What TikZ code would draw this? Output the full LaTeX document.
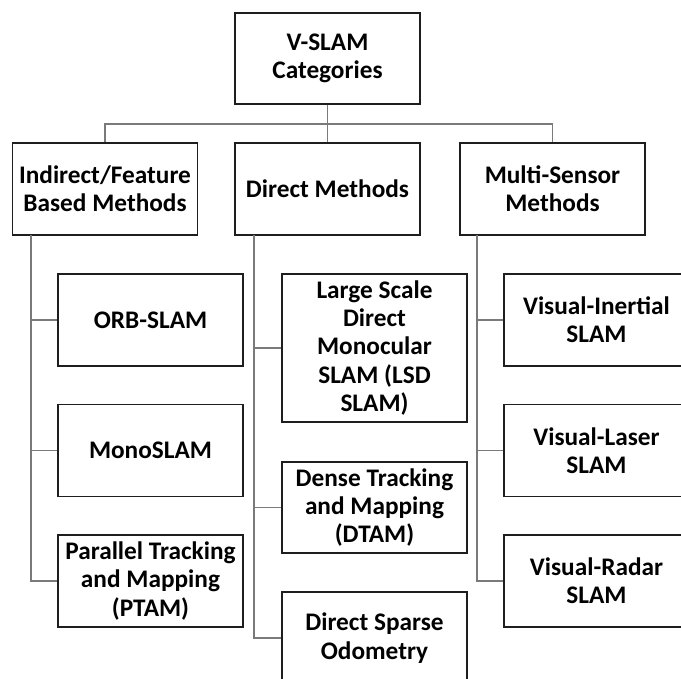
\documentclass[tikz,border=0pt]{standalone}
\usepackage{fontspec}
\setmainfont{Carlito}
\newcommand{\boxfont}{\fontsize{25.3}{28.3}\selectfont\bfseries}
\begin{document}
\begin{tikzpicture}[x=1pt,y=-1pt,
  catbox/.style={draw=boxline,line width=1.1pt,rectangle,inner sep=0pt,
    minimum width=185pt,minimum height=92pt,align=center,text width=183pt,
    font=\boxfont,execute at begin node={\spaceskip=0.23em\relax}},
  link/.style={draw=linkgray,line width=1.3pt}]
\definecolor{boxline}{HTML}{1E1E1E}
\definecolor{linkgray}{HTML}{7A7A7A}
\useasboundingbox (0,0) rectangle (681,679);
\clip (0,0) rectangle (681,679);

% top level and the three families
\node[catbox,minimum height=91pt] (root) at (327.5,58.5) {V-SLAM\\Categories};
\node[catbox] (ind) at (105,189) {Indirect/Feature\\Based Methods};
\node[catbox] (dir) at (327.5,189) {Direct Methods};
\node[catbox] (mul) at (552.5,189) {Multi-Sensor\\Methods};

% indirect / feature based
\node[catbox] (orb)  at (150.5,320)   {ORB-SLAM};
\node[catbox] (mono) at (150.5,450.5) {MonoSLAM};
\node[catbox] (ptam) at (150.5,581)   {Parallel Tracking\\and Mapping\\(PTAM)};

% direct
\node[catbox,minimum height=148pt] (lsd) at (374.5,348) {Large Scale\\Direct\\Monocular\\SLAM (LSD\\SLAM)};
\node[catbox,minimum height=91pt] (dtam) at (374.5,507.5) {Dense Tracking\\and Mapping\\(DTAM)};
\node[catbox] (dso) at (374.5,638) {Direct Sparse\\Odometry};

% multi-sensor
\node[catbox] (vi) at (596.5,320)   {Visual-Inertial\\SLAM};
\node[catbox] (vl) at (596.5,450.5) {Visual-Laser\\SLAM};
\node[catbox] (vr) at (596.5,581)   {Visual-Radar\\SLAM};

% bus under the root
\coordinate (bus) at (327.5,124);
\draw[link] (root.south) -- (dir.north);
\draw[link] (ind.north) -- (ind.north |- bus) -- (mul.north |- bus) -- (mul.north);

% column spines
\coordinate (spL) at (31,235);
\coordinate (spD) at (254,235);
\coordinate (spM) at (477,235);
\draw[link] (spL) -- (spL |- ptam.west) -- (ptam.west);
\draw[link] (spL |- orb.west) -- (orb.west);
\draw[link] (spL |- mono.west) -- (mono.west);

\draw[link] (spD) -- (spD |- dso.west) -- (dso.west);
\draw[link] (spD |- lsd.west) -- (lsd.west);
\draw[link] (spD |- dtam.west) -- (dtam.west);

\draw[link] (spM) -- (spM |- vr.west) -- (vr.west);
\draw[link] (spM |- vi.west) -- (vi.west);
\draw[link] (spM |- vl.west) -- (vl.west);
\end{tikzpicture}
\end{document}
